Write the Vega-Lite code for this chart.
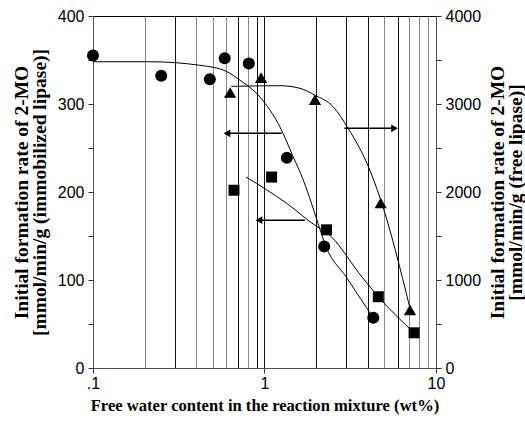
{
  "$schema": "https://vega.github.io/schema/vega-lite/v6.json",
  "width": 343,
  "height": 352,
  "autosize": {"type": "none"},
  "padding": {"left": 93, "top": 16, "right": 89, "bottom": 54},
  "background": "white",
  "config": {
    "view": {"stroke": "black", "strokeWidth": 1},
    "axis": {
      "labelFont": "Liberation Sans",
      "labelFontSize": 16,
      "labelColor": "black",
      "titleFont": "Liberation Serif",
      "titleFontWeight": "bold",
      "titleColor": "black",
      "tickColor": "#333",
      "domainColor": "#555",
      "tickSize": 5,
      "labelFlush": false,
      "labelOverlap": false
    }
  },
  "datasets": {
    "left_points": [
      {"series": "circle", "x": 0.1, "y": 355},
      {"series": "circle", "x": 0.25, "y": 332},
      {"series": "circle", "x": 0.48, "y": 328},
      {"series": "circle", "x": 0.586, "y": 352},
      {"series": "circle", "x": 0.81, "y": 346},
      {"series": "circle", "x": 1.35, "y": 239},
      {"series": "circle", "x": 2.23, "y": 138},
      {"series": "circle", "x": 4.31, "y": 57},
      {"series": "square", "x": 0.664, "y": 202},
      {"series": "square", "x": 1.1, "y": 217},
      {"series": "square", "x": 2.3, "y": 157},
      {"series": "square", "x": 4.61, "y": 81},
      {"series": "square", "x": 7.45, "y": 40}
    ],
    "left_curves": [
      {"series": "circle", "x": 0.1, "y": 348},
      {"series": "circle", "x": 0.215, "y": 348},
      {"series": "circle", "x": 0.42, "y": 344},
      {"series": "circle", "x": 0.6, "y": 337},
      {"series": "circle", "x": 0.72, "y": 327},
      {"series": "circle", "x": 0.94, "y": 308},
      {"series": "circle", "x": 1.23, "y": 274},
      {"series": "circle", "x": 1.47, "y": 240},
      {"series": "circle", "x": 1.68, "y": 214},
      {"series": "circle", "x": 2.11, "y": 157},
      {"series": "circle", "x": 2.23, "y": 143},
      {"series": "circle", "x": 3.03, "y": 102},
      {"series": "circle", "x": 4.31, "y": 57},
      {"series": "square", "x": 0.78, "y": 217},
      {"series": "square", "x": 1.35, "y": 187},
      {"series": "square", "x": 2.01, "y": 161},
      {"series": "square", "x": 2.3, "y": 154},
      {"series": "square", "x": 3.75, "y": 102},
      {"series": "square", "x": 4.61, "y": 81},
      {"series": "square", "x": 7.45, "y": 40}
    ],
    "left_arrows": [
      {"x": 0.604, "x2": 1.26, "y": 266.7},
      {"x": 0.929, "x2": 1.72, "y": 168}
    ],
    "right_points": [
      {"series": "triangle", "x": 0.63, "y": 3130},
      {"series": "triangle", "x": 0.955, "y": 3300},
      {"series": "triangle", "x": 1.97, "y": 3050},
      {"series": "triangle", "x": 4.76, "y": 1875},
      {"series": "triangle", "x": 7.05, "y": 660}
    ],
    "right_curve": [
      {"x": 0.64, "y": 3200},
      {"x": 1.23, "y": 3208},
      {"x": 1.61, "y": 3178},
      {"x": 1.97, "y": 3100},
      {"x": 2.51, "y": 2970},
      {"x": 3.08, "y": 2720},
      {"x": 4.03, "y": 2290},
      {"x": 4.76, "y": 1910},
      {"x": 7.05, "y": 680}
    ],
    "right_arrows": [
      {"x": 5.73, "x2": 2.92, "y": 2724}
    ]
  },
  "encoding": {
    "x": {
      "field": "x",
      "type": "quantitative",
      "scale": {"type": "log", "domain": [0.1, 10], "nice": false},
      "axis": {
        "values": [0.1, 0.2, 0.3, 0.4, 0.5, 0.6, 0.7, 0.8, 0.9, 1, 2, 3, 4, 5, 6, 7, 8, 9, 10],
        "labelExpr": "datum.value == 0.1 ? '.1' : (datum.value == 1 ? '1' : (datum.value == 10 ? '10' : ''))",
        "grid": true,
        "gridColor": {"condition": {"test": "indexof([0.3, 0.7, 0.9, 1, 2, 3, 4, 6], datum.value) >= 0", "value": "#111"}, "value": "#888"},
        "gridOpacity": 1,
        "gridWidth": 1,
        "tickOpacity": {"condition": {"test": "datum.value == 0.1 || datum.value == 1 || datum.value == 10", "value": 1}, "value": 0},
        "labelPadding": 2,
        "title": "Free water content in the reaction mixture (wt%)",
        "titleFontSize": 16.6,
        "titlePadding": 6
      }
    }
  },
  "layer": [
    {
      "encoding": {
        "y": {
          "field": "y",
          "type": "quantitative",
          "scale": {"domain": [0, 400], "nice": false},
          "axis": {
            "orient": "left",
            "values": [0, 50, 100, 150, 200, 250, 300, 350, 400],
            "labelExpr": "datum.value % 100 == 0 ? datum.label : ''",
            "grid": false,
            "labelPadding": 4,
            "title": ["Initial formation rate of 2-MO", "[mmol/min/g (immobilized lipase)]"],
            "titleFontSize": 19.5,
            "titleLineHeight": 18,
            "titlePadding": 8
          }
        }
      },
      "layer": [
        {
          "data": {"name": "left_curves"},
          "mark": {"type": "line", "color": "black", "strokeWidth": 1, "interpolate": "monotone"},
          "encoding": {"detail": {"field": "series"}}
        },
        {
          "data": {"name": "left_arrows"},
          "mark": {"type": "rule", "color": "black", "strokeWidth": 1.5},
          "encoding": {"x2": {"field": "x2"}}
        },
        {
          "data": {"name": "left_arrows"},
          "mark": {"type": "point", "shape": "triangle-left", "filled": true, "color": "black", "opacity": 1, "size": 60},
          "encoding": {}
        },
        {
          "data": {"name": "left_points"},
          "mark": {"type": "point", "filled": true, "color": "black", "opacity": 1},
          "encoding": {
            "shape": {"field": "series", "scale": {"domain": ["circle", "square"], "range": ["circle", "square"]}, "legend": null},
            "size": {"field": "series", "scale": {"domain": ["circle", "square"], "range": [144, 121]}, "legend": null}
          }
        }
      ]
    },
    {
      "encoding": {
        "y": {
          "field": "y",
          "type": "quantitative",
          "scale": {"domain": [0, 4000], "nice": false},
          "axis": {
            "orient": "right",
            "values": [0, 500, 1000, 1500, 2000, 2500, 3000, 3500, 4000],
            "labelExpr": "datum.value % 1000 == 0 ? datum.label : ''",
            "format": "d",
            "grid": false,
            "labelPadding": 4,
            "title": ["Initial formation rate of 2-MO", "[mmol/min/g (free lipase)]"],
            "titleAngle": 270,
            "titleFontSize": 19.5,
            "titleLineHeight": 18,
            "titlePadding": 9
          }
        }
      },
      "layer": [
        {
          "data": {"name": "right_curve"},
          "mark": {"type": "line", "color": "black", "strokeWidth": 1, "interpolate": "monotone"},
          "encoding": {}
        },
        {
          "data": {"name": "right_arrows"},
          "mark": {"type": "rule", "color": "black", "strokeWidth": 1.5},
          "encoding": {"x2": {"field": "x2"}}
        },
        {
          "data": {"name": "right_arrows"},
          "mark": {"type": "point", "shape": "triangle-right", "filled": true, "color": "black", "opacity": 1, "size": 60},
          "encoding": {}
        },
        {
          "data": {"name": "right_points"},
          "mark": {"type": "point", "shape": "triangle-up", "filled": true, "color": "black", "opacity": 1, "size": 150},
          "encoding": {}
        }
      ]
    }
  ],
  "resolve": {"scale": {"y": "independent"}}
}
